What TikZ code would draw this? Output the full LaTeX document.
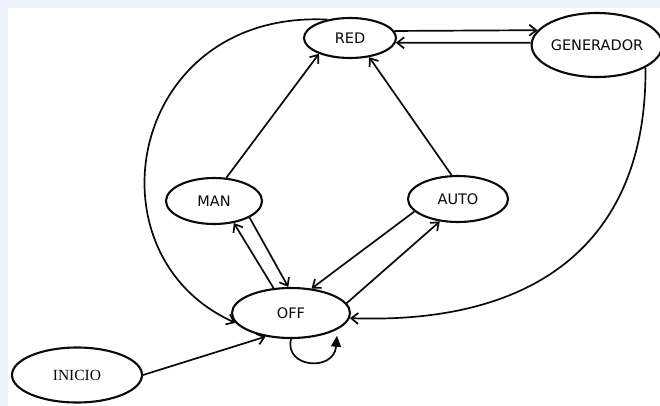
\documentclass[tikz,border=0pt]{standalone}
\usepackage{fontspec}
\setmainfont{DejaVu Sans}
\newfontfamily\serifnode{Liberation Serif}
\usetikzlibrary{shapes.geometric,arrows.meta}
\definecolor{framebg}{RGB}{238,243,250}
\definecolor{ink}{RGB}{10,10,10}
\begin{document}
\begin{tikzpicture}[x=1pt,y=-1pt,
  state/.style={ellipse,draw=ink,line width=2.1pt,inner sep=0pt,text=ink,
                font=\fontsize{14.5}{17}\selectfont},
  link/.style={draw=ink,line width=1.7pt,
               -{Straight Barb[length=7pt,width=11pt,line width=1.7pt]}},
  loop/.style={draw=ink,line width=1.7pt,-{Triangle[length=11pt,width=10pt]}},
]
\useasboundingbox (0,0) rectangle (660,406);
\fill[white] (0,0) rectangle (660,406);
% pale window frame
\fill[framebg] (0,0) rectangle (660,8);
\fill[framebg] (0,0) rectangle (8,406);

% states
\node[state,minimum width=92pt,minimum height=40pt]  (red)  at (350,38)  {RED};
\node[state,minimum width=130pt,minimum height=64pt] (gen)  at (597,45)  {GENERADOR};
\node[state,minimum width=96pt,minimum height=46pt]  (man)  at (214,201) {MAN};
\node[state,minimum width=100pt,minimum height=46pt] (auto) at (458,199) {AUTO};
\node[state,minimum width=118pt,minimum height=50pt] (off)  at (291,313) {OFF};
\node[state,minimum width=130pt,minimum height=55pt,
      font=\serifnode\fontsize{15.5}{18}\selectfont] (ini) at (77,375) {INICIO};

% transitions
\draw[link] (man.62) -- (red.207);
\draw[link] (auto.105) -- (red.-45);
\draw[link] (red.9) -- (gen.166);
\draw[link] (gen.178) -- (red.-6);
\draw[link] (red.141) .. controls (128,10) and (84,255) .. (off.190);
\draw[link] (gen.-25) .. controls (647,236) and (543,325) .. (off.-5);
\draw[link] (off.125) -- (man.-48);
\draw[link] (man.-25) -- (off.96);
\draw[link] (auto.196) -- (off.50);
\draw[link] (off.10) -- (auto.231);
\draw[link] (ini.east) -- (off.223);
\draw[loop] (off.270) .. controls (284,368) and (334,372) .. ([xshift=2pt,yshift=-5pt]off.-22);
\end{tikzpicture}
\end{document}
